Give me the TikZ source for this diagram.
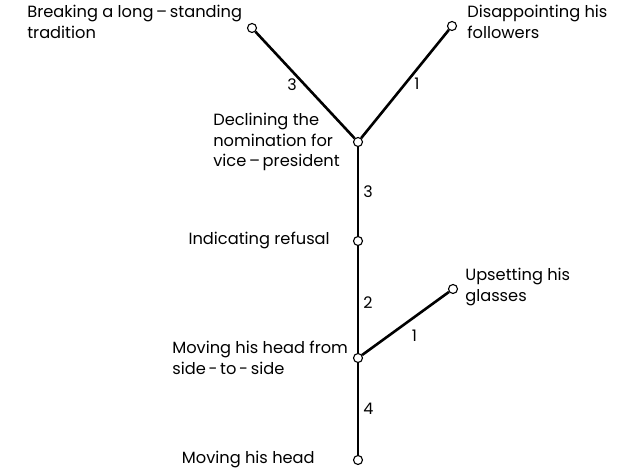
\documentclass[tikz,border=0pt]{standalone}
\usepackage{fontspec}
\setmainfont{Poppins}
\usepackage{tikz}

\begin{document}
\begin{tikzpicture}[x=1bp, y=1bp,
        pt/.style={circle, draw, fill=white, line width=1.1bp, inner sep=0pt, minimum size=9bp},
        txt/.style={align=left, inner sep=0pt, font=\fontsize{16.3}{20.5}\selectfont},
        num/.style={inner sep=2bp, font=\fontsize{16}{18}\selectfont},
        every path/.style={line width=2.6bp}]
                \useasboundingbox (0,0) rectangle (634,470);
                \node[pt] (Brk) at (252,442) {};
                \node[pt] (Dis) at (452,444) {};
                \node[pt] (Dec) at (358,328) {};
                \node[pt] (Ind) at (358,229) {};
                \node[pt] (Ups) at (453,181) {};
                \node[pt] (Side) at (358,112) {};
                \node[pt] (Head) at (358,10) {};
                \node[txt, anchor=north west] (BrkT) at (26,466) {Breaking a long\,--\,standing\\tradition};
                \node[txt, anchor=north west] (DisT) at (466,466) {Disappointing his\\followers};
                \node[txt, anchor=north west] (DecT) at (212,358) {Declining the\\nomination for\\vice\,--\,president};
                \node[txt, anchor=east] (IndT) at (331,230) {Indicating refusal};
                \node[txt, anchor=north west] (UpsT) at (464,203) {Upsetting his\\glasses};
                \node[txt, anchor=north west] (SideT) at (171,130) {Moving his head from\\side\,-\,to\,-\,side};
                \node[txt, anchor=east] (HeadT) at (316,10) {Moving his head};
                \draw (Brk) -- (Dec) node[num, midway, left=5bp] (w1) {3};
                \draw (Dis) -- (Dec) node[num, midway, right=6bp] (w2) {1};
                \draw (Dec) -- (Ind) node[num, midway, right=2bp] (w3) {3};
                \draw (Ind) -- (Side) node[num, pos=0.53, right=2bp] (w4) {2};
                \draw (Side) -- (Ups) node[num, midway, below right=3bp] (w5) {1};
                \draw (Side) -- (Head) node[num, midway, right=2bp] (w6) {4};
            \end{tikzpicture}
\end{document}
